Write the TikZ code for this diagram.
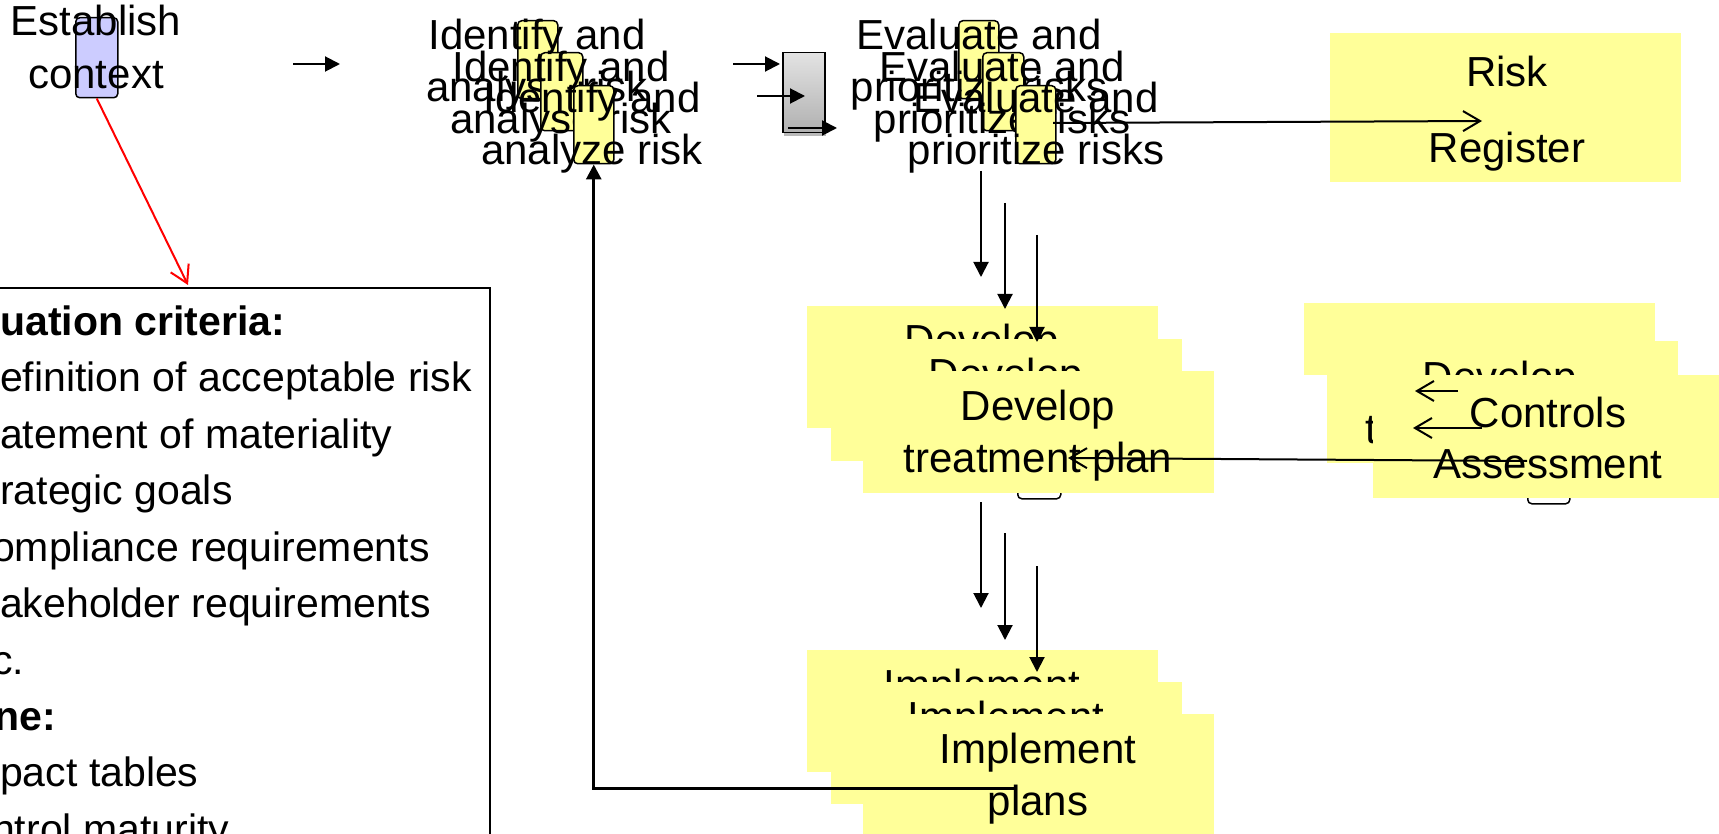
\documentclass[tikz,border=0pt]{standalone}
\usepackage{fontspec}
\setmainfont{Liberation Sans}
\usetikzlibrary{arrows.meta}
\definecolor{sticky}{HTML}{FFFF99}
\definecolor{lav}{HTML}{CCCCFF}
\tikzset{
  lbl/.style={font=\fontsize{42}{52}\selectfont, inner sep=0pt, anchor=base},
  crittxt/.style={font=\fontsize{41}{52}\selectfont, inner sep=0pt, anchor=base west},
  critbold/.style={font=\fontsize{41}{52}\selectfont\bfseries, inner sep=0pt, anchor=base west},
  tab/.style={draw=black, line width=1.5pt, rounded corners=4pt, fill=sticky, inner sep=0pt, anchor=north west},
  sheet/.style={fill=sticky, inner sep=0pt, anchor=north west, minimum width=351pt},
  flow/.style={draw=black, line width=2pt, -{Triangle[length=15pt,width=15pt]}},
  barb/.style={draw=black, line width=2pt, -{Straight Barb[length=17pt,width=20pt]}},
}
\begin{document}
\begin{tikzpicture}[x=1pt,y=-1pt]
\useasboundingbox (0,0) rectangle (1719,834);
\clip (0,0) rectangle (1719,834);

% criteria box
\node[draw=black, line width=2pt, inner sep=0pt, minimum width=520pt, minimum height=580pt, anchor=north east] (crit) at (491,287) {};
\node[critbold] (t1) at (0,335) {uation criteria:};
\node[crittxt] (t2) at (0,391) {efinition of acceptable risk};
\node[crittxt] (t3) at (0,448) {atement of materiality};
\node[crittxt] (t4) at (0,504) {rategic goals};
\node[crittxt] (t5) at (-8,561) {ompliance requirements};
\node[crittxt] (t6) at (0,617) {akeholder requirements};
\node[crittxt] (t7) at (-8,674) {c.};
\node[critbold] (t8) at (-6,730) {ne:};
\node[crittxt] (t9) at (0,786) {pact tables};
\node[crittxt] (t10) at (-8,843) {ntrol maturity};

% establish context
\node[tab, fill=lav, minimum width=42pt, minimum height=80pt] (ctx) at (75,17) {};
\node[lbl] (ctxa) at (96,36) {Establish};
\node[lbl] (ctxb) at (96,89) {context};

% identify copies
\node[tab, minimum width=40pt, minimum height=78pt] (i1) at (517,20) {};
\node[lbl] (i1a) at (537,50) {Identify and};
\node[lbl] (i1b) at (537,102) {analyse risk};
\node[tab, minimum width=42pt, minimum height=78pt] (i2) at (540,52) {};
\node[lbl] (i2a) at (561,82) {Identify and};
\node[lbl] (i2b) at (561,134) {analyse risk};
\node[tab, minimum width=40pt, minimum height=78pt] (i3) at (573,85) {};
\node[lbl] (i3a) at (592,113) {Identify and};
\node[lbl] (i3b) at (592,165) {analyze risk};

% gray box
\fill[gray!55] (784,130) rectangle (826,136);
\node[draw=black, line width=1.5pt, top color=gray!22, bottom color=gray!62, inner sep=0pt, minimum width=42pt, minimum height=80pt, anchor=north west] (gbox) at (782,52) {};

% evaluate copies
\node[tab, minimum width=40pt, minimum height=78pt] (e1) at (958,20) {};
\node[lbl] (e1a) at (979,50) {Evaluate and};
\node[lbl] (e1b) at (979,102) {prioritize risks};
\node[tab, minimum width=41pt, minimum height=78pt] (e2) at (982,52) {};
\node[lbl] (e2a) at (1002,82) {Evaluate and};
\node[lbl] (e2b) at (1002,134) {prioritize risks};
\node[tab, minimum width=40pt, minimum height=78pt] (e3) at (1015,85) {};
\node[lbl] (e3a) at (1036,113) {Evaluate and};
\node[lbl] (e3b) at (1036,165) {prioritize risks};

% risk register
\node[sheet, minimum height=149pt] (reg) at (1330,33) {};
\node[lbl] (rega) at (1507,87) {Risk};
\node[lbl] (regb) at (1507,163) {Register};

% small tabs peeking out
\node[tab, fill=white, minimum width=43pt, minimum height=78pt] (sd) at (1017,420) {};
\node[tab, fill=white, minimum width=42pt, minimum height=78pt] (sc) at (1527,425) {};

% develop copies
\node[sheet, minimum height=122pt] (dA) at (807,306) {};
\node[lbl] (dAa) at (982,355) {Develop};
\node[lbl] (dAb) at (982,407) {treatment plan};
\node[sheet, minimum height=122pt] (dB) at (831,339) {};
\node[lbl] (dBa) at (1006,388) {Develop};
\node[lbl] (dBb) at (1006,440) {treatment plan};
\node[sheet, minimum height=122pt] (dC) at (863,371) {};
\node[lbl] (dCa) at (1038,420) {Develop};
\node[lbl] (dCb) at (1038,472) {treatment plan};

% controls copies
\node[sheet, minimum height=72pt] (cA) at (1304,303) {};
\node[sheet, minimum height=122pt] (cB) at (1327,341) {};
\node[lbl] (cBa) at (1500,391) {Develop};
\node[lbl] (cBb) at (1500,443) {treatment plan};
\node[sheet, minimum height=123pt] (cC) at (1373,375) {};
\node[lbl] (cCa) at (1548,427) {Controls};
\node[lbl] (cCb) at (1548,478) {Assessment};

% implement copies
\node[sheet, minimum height=122pt] (mA) at (807,650) {};
\node[lbl] (mAa) at (982,699) {Implement};
\node[lbl] (mAb) at (982,751) {plans};
\node[sheet, minimum height=122pt] (mB) at (831,682) {};
\node[lbl] (mBa) at (1006,731) {Implement};
\node[lbl] (mBb) at (1006,783) {plans};
\node[sheet, minimum height=122pt] (mC) at (863,714) {};
\node[lbl] (mCa) at (1038,763) {Implement};
\node[lbl] (mCb) at (1038,815) {plans};

% connector end points
\coordinate (critin) at (188,285);
\coordinate (a0s) at (293,64);   \coordinate (a0e) at (340,64);
\coordinate (g1s) at (733,64);   \coordinate (g1e) at (780,64);
\coordinate (g2s) at (757,96);   \coordinate (g2e) at (805,96);
\coordinate (g3s) at (788,128);  \coordinate (g3e) at (837,128);
\coordinate (v1s) at (981,171);  \coordinate (v1e) at (981,277);
\coordinate (v2s) at (1005,203); \coordinate (v2e) at (1005,309);
\coordinate (v3s) at (1037,235); \coordinate (v3e) at (1037,342);
\coordinate (w1s) at (981,502);  \coordinate (w1e) at (981,608);
\coordinate (w2s) at (1005,533); \coordinate (w2e) at (1005,640);
\coordinate (w3s) at (1037,566); \coordinate (w3e) at (1037,672);
\coordinate (loops) at (1016,788);
\coordinate (regs) at (1053,123); \coordinate (rege) at (1482,121);
\coordinate (cds) at (1527,461);  \coordinate (cde) at (1068,458);
\coordinate (k1s) at (1458,391);  \coordinate (k1e) at (1415,391);
\coordinate (k2s) at (1482,428);  \coordinate (k2e) at (1413,428);

% connectors
\draw[barb, draw=red] (ctx.south) -- (critin);
\draw[flow] (a0s) -- (a0e);
\draw[flow] (g1s) -- (g1e);
\draw[flow] (g2s) -- (g2e);
\draw[flow] (g3s) -- (g3e);
\draw[flow] (v1s) -- (v1e);
\draw[flow] (v2s) -- (v2e);
\draw[flow] (v3s) -- (v3e);
\draw[flow] (w1s) -- (w1e);
\draw[flow] (w2s) -- (w2e);
\draw[flow] (w3s) -- (w3e);
\draw[flow, line width=3pt] (loops) -| (i3.south);
\draw[barb] (regs) -- (rege);
\draw[barb] (cds) -- (cde);
\draw[barb] (k1s) -- (k1e);
\draw[barb] (k2s) -- (k2e);
\end{tikzpicture}
\end{document}
